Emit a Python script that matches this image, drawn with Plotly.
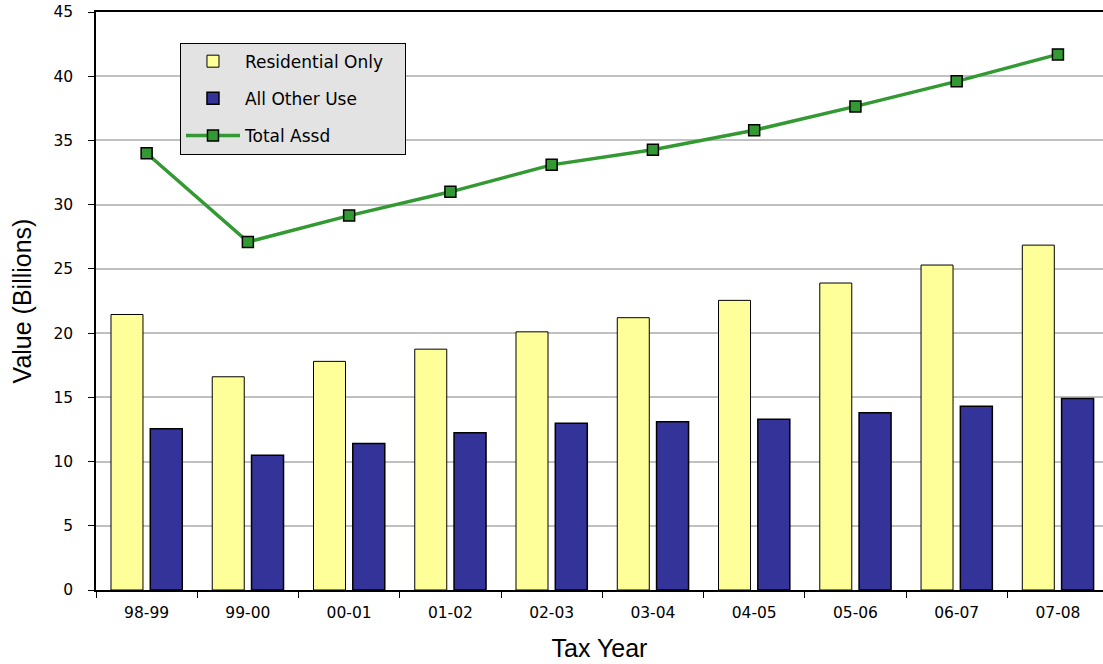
import plotly.graph_objects as go

years = ["98-99", "99-00", "00-01", "01-02", "02-03", "03-04", "04-05", "05-06", "06-07", "07-08"]
residential = [21.45, 16.6, 17.8, 18.75, 20.1, 21.2, 22.55, 23.9, 25.3, 26.85]
all_other = [12.55, 10.5, 11.4, 12.25, 12.98, 13.1, 13.3, 13.8, 14.3, 14.9]
total_assd = [34.0, 27.1, 29.15, 31.0, 33.1, 34.27, 35.8, 37.65, 39.6, 41.7]

fig = go.Figure()
fig.add_trace(go.Bar(
    x=years, y=residential, name="Residential Only\u00a0\u00a0\u00a0",
    marker=dict(color="#FFFF99", line=dict(color="#000000", width=1)),
    width=0.316, offset=-0.352, legendgroup="a",
))
fig.add_trace(go.Bar(
    x=years, y=all_other, name="All Other Use",
    marker=dict(color="#333399", line=dict(color="#000000", width=1.5)),
    width=0.316, offset=0.036, legendgroup="b",
))
fig.add_trace(go.Scatter(
    x=years, y=total_assd, name="Total Assd", mode="lines+markers",
    line=dict(color="#339933", width=3.5),
    marker=dict(symbol="square", size=11, color="#339933", line=dict(color="#000000", width=1.5)),
    legendgroup="c",
))

fig.update_layout(
    width=1103, height=664,
    margin=dict(l=96, r=0, t=12, b=74),
    paper_bgcolor="white", plot_bgcolor="white",
    barmode="overlay",
    font=dict(family="DejaVu Sans", size=15, color="#000000"),
    showlegend=True,
    legend=dict(
        x=0.0834, y=0.947, xanchor="left", yanchor="top",
        bgcolor="#E3E3E3", bordercolor="#000000", borderwidth=1,
        font=dict(family="DejaVu Sans", size=17),
        tracegroupgap=12, itemwidth=54,
    ),
    xaxis=dict(
        type="category", range=[-0.5, 9.445],
        showline=True, linecolor="#000000", linewidth=1.5, mirror=True,
        ticks="outside", tickson="boundaries", ticklen=6, tickcolor="#000000",
        showgrid=False, ticklabelstandoff=8,
        tickfont=dict(family="DejaVu Sans", size=15.5),
        title=dict(text="Tax Year", font=dict(family="Liberation Sans", size=25), standoff=18),
    ),
    yaxis=dict(
        range=[0, 45], dtick=5, tick0=0,
        showline=True, linecolor="#000000", linewidth=1.5,
        ticks="outside", ticklen=6, tickcolor="#000000",
        showgrid=True, gridcolor="#C0C0C0", gridwidth=1.5,
        zeroline=False, ticklabelstandoff=12,
        tickfont=dict(family="DejaVu Sans", size=15.5),
        title=dict(text="Value (Billions)", font=dict(family="Liberation Sans", size=25), standoff=15),
    ),
)

fig.write_html("out.html")
